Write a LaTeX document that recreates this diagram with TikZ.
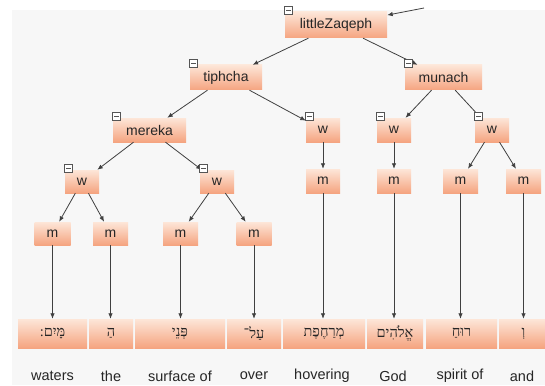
\documentclass[tikz,border=0pt]{standalone}
\usepackage{fontspec}
\setmainfont{Liberation Sans}
\newfontfamily\hebfont[Script=Hebrew]{Liberation Serif}
\TeXXeTstate=1
\usetikzlibrary{arrows.meta}
\definecolor{zqTop}{RGB}{253,230,216}
\definecolor{zqBot}{RGB}{245,164,128}
\definecolor{zqGray}{RGB}{64,64,64}
\definecolor{zqBack}{RGB}{247,247,247}
\definecolor{zqIcon}{RGB}{85,85,85}

\tikzset{
  tagbox/.style={top color=zqTop, bottom color=zqBot, inner sep=0pt,
    minimum height=24pt, text=black!85, font=\fontsize{14}{16}\selectfont},
  wordbox/.style={tagbox, minimum height=29pt, font=\hebfont\fontsize{14.5}{16}\selectfont},
  gloss/.style={text=black!85, font=\fontsize{14.5}{17}\selectfont},
  edge/.style={zqGray, line width=0.8pt, -{Latex[length=5.5pt,width=4.5pt]}},
  minusbox/.style={draw=zqIcon, fill=white, line width=0.7pt, minimum size=7.5pt,
    inner sep=0pt, path picture={\draw[zqIcon, line width=0.8pt]
      ([xshift=1.5pt]path picture bounding box.west) --
      ([xshift=-1.5pt]path picture bounding box.east);}}
}

\begin{document}
\begin{tikzpicture}[x=1pt, y=-1pt]
  \useasboundingbox (0,0) rectangle (545,385);
  \fill[zqBack] (12,10) rectangle (545,385);

  % Accent tree
  \node[tagbox, minimum width=102pt, minimum height=26pt] (lz) at (336,25) {littleZaqeph};
  \node[tagbox, minimum width=72pt, minimum height=25pt] (tiphcha) at (226,77.5) {tiphcha};
  \node[tagbox, minimum width=77pt, minimum height=25pt] (munach) at (443.5,77.5) {munach};
  \node[tagbox, minimum width=73pt] (mereka) at (149.5,130) {mereka};

  % w level
  \node[tagbox, minimum width=34pt, minimum height=23pt] (wa) at (82,181.5) {w};
  \node[tagbox, minimum width=34pt, minimum height=23pt] (wb) at (217,181.5) {w};
  \node[tagbox, minimum width=34pt] (wc) at (323,130) {w};
  \node[tagbox, minimum width=34pt] (wd) at (394,130) {w};
  \node[tagbox, minimum width=34pt] (we) at (492,130) {w};

  % m level
  \node[tagbox, minimum width=36pt, minimum height=23pt] (ma) at (52.5,233.5) {m};
  \node[tagbox, minimum width=35pt, minimum height=23pt] (mb) at (110.5,233.5) {m};
  \node[tagbox, minimum width=35pt, minimum height=23pt] (mc) at (180.5,233.5) {m};
  \node[tagbox, minimum width=35pt, minimum height=23pt] (md) at (254,233.5) {m};
  \node[tagbox, minimum width=34pt] (me) at (323,181) {m};
  \node[tagbox, minimum width=34pt] (mf) at (394,181) {m};
  \node[tagbox, minimum width=35pt] (mg) at (460.5,181) {m};
  \node[tagbox, minimum width=35pt] (mh) at (523.5,181) {m};

  % Hebrew words
  \node[wordbox, minimum width=69pt] (ha) at (52.5,333.5) {\beginR מָּיִם:\endR};
  \node[wordbox, minimum width=44pt] (hb) at (111,333.5) {\beginR הַ\endR};
  \node[wordbox, minimum width=90pt] (hc) at (180,333.5) {\beginR פְּנֵי\endR};
  \node[wordbox, minimum width=54pt] (hd) at (254,333.5) {\beginR עַל־\endR};
  \node[wordbox, minimum width=82pt] (he) at (324,333.5) {\beginR מְרַחֶפֶת\endR};
  \node[wordbox, minimum width=56pt] (hf) at (395,333.5) {\beginR אֱלֹהִים\endR};
  \node[wordbox, minimum width=71pt] (hg) at (461.5,333.5) {\beginR רוּחַ\endR};
  \node[wordbox, minimum width=49pt] (hh) at (523.5,333.5) {\beginR וְ\endR};

  % Glosses
  \node[gloss] (ga) at (52.5,376) {waters};
  \node[gloss] (gb) at (111,376) {the};
  \node[gloss] (gc) at (180,376) {surface of};
  \node[gloss] (gd) at (254,376) {over};
  \node[gloss] (ge) at (322,376) {hovering};
  \node[gloss] (gf) at (393,376) {God};
  \node[gloss] (gg) at (460,376) {spirit of};
  \node[gloss] (gh) at (522,376) {and};

  % Tree edges
  \coordinate (feed) at (424,8);
  \draw[edge] (feed) -- (lz);
  \draw[edge] (lz) -- (tiphcha);
  \draw[edge] (lz) -- (munach);
  \draw[edge] (tiphcha) -- (mereka);
  \draw[edge] (tiphcha) -- (wc);
  \draw[edge] (munach) -- (wd);
  \draw[edge] (munach) -- (we);
  \draw[edge] (mereka) -- (wa);
  \draw[edge] (mereka) -- (wb);
  \draw[edge] (wa) -- (ma);
  \draw[edge] (wa) -- (mb);
  \draw[edge] (wb) -- (mc);
  \draw[edge] (wb) -- (md);
  \draw[edge] (wc.south) -- (me.north);
  \draw[edge] (wd.south) -- (mf.north);
  \draw[edge] (we) -- (mg);
  \draw[edge] (we) -- (mh);

  % m to word
  \draw[edge] (ma.south) -- (ma.south |- ha.north);
  \draw[edge] (mb.south) -- (mb.south |- hb.north);
  \draw[edge] (mc.south) -- (mc.south |- hc.north);
  \draw[edge] (md.south) -- (md.south |- hd.north);
  \draw[edge] (me.south) -- (me.south |- he.north);
  \draw[edge] (mf.south) -- (mf.south |- hf.north);
  \draw[edge] (mg.south) -- (mg.south |- hg.north);
  \draw[edge] (mh.south) -- (mh.south |- hh.north);

  % Collapse icons
  \foreach \n in {lz,tiphcha,munach,mereka,wa,wb,wc,wd,we}
    \node[minusbox] (\n-icon) at ([xshift=3.5pt, yshift=1.5pt]\n.north west) {};
\end{tikzpicture}
\end{document}
